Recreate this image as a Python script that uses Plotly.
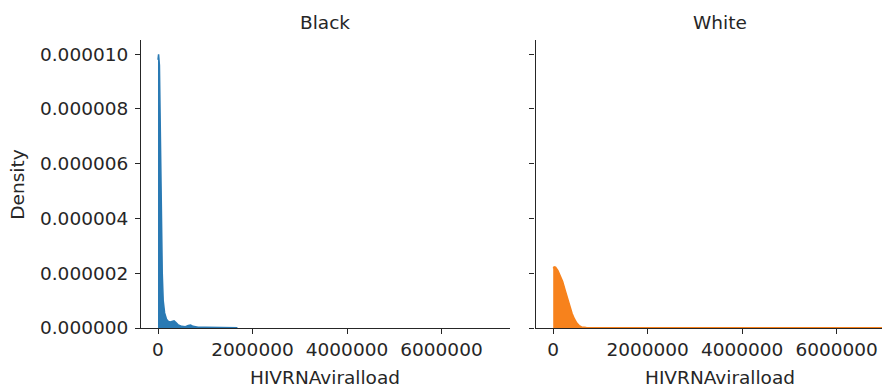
import plotly.graph_objects as go

# ---- data ----
panels = ["Black", "White"]
x_label = "HIVRNAviralload"
y_label = "Density"

black_x = [0, 12000, 30000, 50000, 70000, 90000, 110000, 140000, 180000, 220000,
           260000, 300000, 340000, 380000, 430000, 500000, 580000, 640000, 690000,
           740000, 850000, 1000000, 1200000, 1400000, 1600000, 1680000]
black_y = [9.8e-6, 1.0e-5, 9.6e-6, 7.0e-6, 4.0e-6, 2.0e-6, 1.0e-6, 5.5e-7, 3.2e-7, 2.4e-7,
           2.2e-7, 2.5e-7, 2.6e-7, 2.0e-7, 1.1e-7, 6e-8, 5e-8, 9e-8, 1.1e-7,
           6e-8, 3e-8, 2.5e-8, 2e-8, 1.5e-8, 1e-8, 5e-9]

white_x = [0, 20000, 50000, 100000, 150000, 200000, 250000, 300000, 350000, 400000,
           450000, 500000, 550000, 600000, 700000, 900000, 1500000, 3000000, 5000000, 7400000]
white_y = [2.18e-6, 2.23e-6, 2.22e-6, 2.1e-6, 1.9e-6, 1.7e-6, 1.4e-6, 1.08e-6, 0.8e-6, 0.53e-6,
           0.33e-6, 0.18e-6, 0.09e-6, 0.04e-6, 0.015e-6, 0.01e-6, 8e-9, 8e-9, 8e-9, 8e-9]

x_ticks = [0, 2000000, 4000000, 6000000]
y_ticks = [0, 0.000002, 0.000004, 0.000006, 0.000008, 0.000010]

colors = ["#2a7ab4", "#f7821c"]

FONT = "DejaVu Sans"
FS = 18.5
OFF = 8  # page body margin
W, H = 890 - OFF, 389 - OFF
L = 141 - OFF
T = 40 - OFF
BOT = 327.7 - OFF
B = H - BOT
plot_w = W - L
left_dom = [0.0, 369 / plot_w]
right_dom = [(535.5 - 141) / plot_w, 1.0]

fig = go.Figure()
for i, (xs, ys) in enumerate([(black_x, black_y), (white_x, white_y)]):
    fig.add_trace(go.Scatter(
        x=xs, y=ys, mode="lines", fill="tozeroy",
        fillcolor=colors[i], line=dict(color=colors[i], width=1.5),
        xaxis="x" if i == 0 else "x2", yaxis="y" if i == 0 else "y2",
        showlegend=False, hoverinfo="skip"))

axis_common = dict(showline=True, linecolor="#262626", linewidth=1.1,
                   ticks="outside", ticklen=5, tickwidth=1.1, tickcolor="#262626",
                   showgrid=False, zeroline=False,
                   tickfont=dict(family=FONT, size=FS, color="#262626"))

fig.update_layout(
    width=W, height=H,
    margin=dict(l=L, r=0, t=T, b=B),
    plot_bgcolor="white", paper_bgcolor="white",
    font=dict(family=FONT, size=FS, color="#262626"),
    xaxis=dict(domain=left_dom, range=[-360000, 7450000], tickvals=x_ticks,
               tickformat="d", anchor="y", **axis_common),
    xaxis2=dict(domain=right_dom, range=[-375000, 7130000], tickvals=x_ticks,
                tickformat="d", anchor="y2", **axis_common),
    yaxis=dict(domain=[0, 1], range=[0, 1.052e-5], tickvals=y_ticks,
               tickformat=".6f", anchor="x", ticklabelstandoff=3, **axis_common),
    yaxis2=dict(domain=[0, 1], range=[0, 1.052e-5], tickvals=y_ticks,
                showticklabels=False, anchor="x2", **axis_common),
)

def px_x(p):
    return (p - OFF - L) / plot_w

def px_y(p):
    return (BOT - (p - OFF)) / (BOT - T)

ann = []
for name, cx in zip(panels, [325, 720]):
    ann.append(dict(text=name, x=px_x(cx), y=px_y(23), xref="paper", yref="paper",
                    showarrow=False, xanchor="center", yanchor="middle",
                    font=dict(family=FONT, size=FS, color="#262626")))
    ann.append(dict(text=x_label, x=px_x(cx), y=px_y(377), xref="paper", yref="paper",
                    showarrow=False, xanchor="center", yanchor="middle",
                    font=dict(family=FONT, size=FS, color="#262626")))
ann.append(dict(text=y_label, x=px_x(17.5), y=px_y(185), xref="paper", yref="paper",
                showarrow=False, xanchor="center", yanchor="middle", textangle=-90,
                borderpad=0,
                font=dict(family=FONT, size=FS, color="#262626")))
fig.update_layout(annotations=ann)

fig.write_html("out.html")
